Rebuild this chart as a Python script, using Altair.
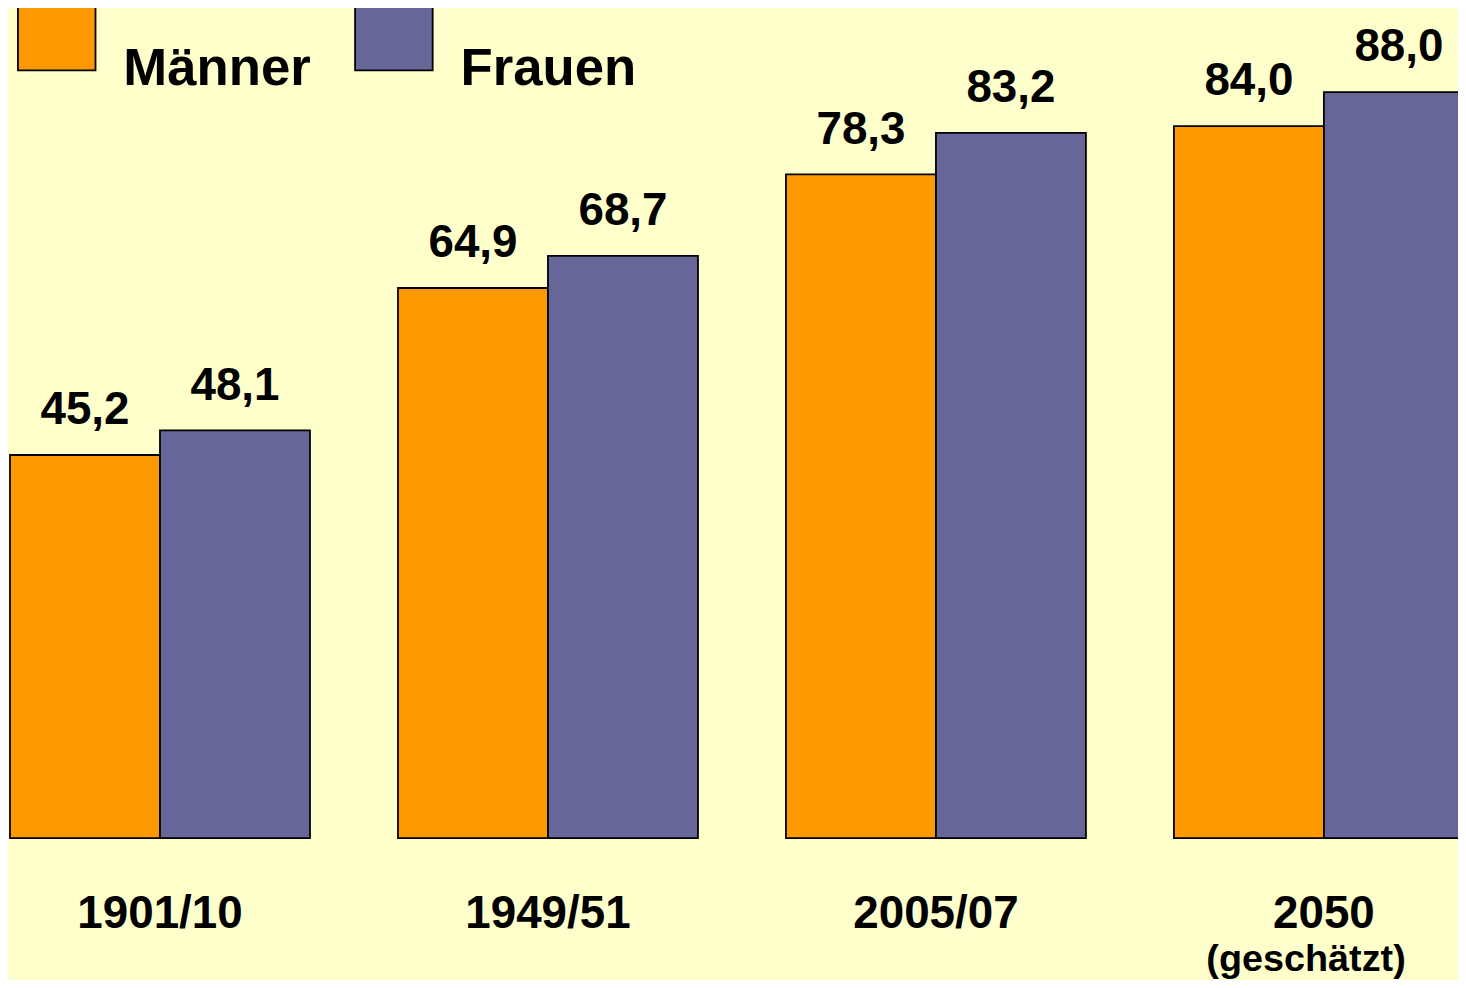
import altair as alt
import pandas as pd

periods = ["1901/10", "1949/51", "2005/07", "2050"]
series = ["Männer", "Frauen"]
maenner = [45.2, 64.9, 78.3, 84.0]
frauen = [48.1, 68.7, 83.2, 88.0]
note_periods = ["2050"]
note_texts = ["(geschätzt)"]
colors = ["#FF9900", "#666699"]

rows = []
for p, m, f in zip(periods, maenner, frauen):
    rows.append({"Zeitraum": p, "Geschlecht": series[0], "Wert": m,
                 "Label": f"{m:.1f}".replace(".", ",")})
    rows.append({"Zeitraum": p, "Geschlecht": series[1], "Wert": f,
                 "Label": f"{f:.1f}".replace(".", ",")})
df = pd.DataFrame(rows)
notes = pd.DataFrame({"Zeitraum": note_periods, "Text": note_texts, "Wert": [0] * len(note_periods)})

FONT = "Liberation Sans"

x_enc = alt.X(
    "Zeitraum:N", sort=periods, title=None,
    scale=alt.Scale(paddingInner=88 / 388, paddingOuter=0),
    axis=alt.Axis(ticks=False, domain=False, labelAngle=0, labelFont=FONT,
                  labelFontSize=46, labelFontWeight="bold", labelColor="black",
                  labelBaseline="alphabetic", labelPadding=90, grid=False),
)
xo_enc = alt.XOffset("Geschlecht:N", sort=series, scale=alt.Scale(paddingInner=0, paddingOuter=0))
y_enc = alt.Y("Wert:Q", scale=alt.Scale(domain=[0, 88], nice=False, zero=True), axis=None)

base = alt.Chart(df)

bars = base.mark_bar(stroke="black", strokeWidth=1.8, opacity=1).encode(
    x=x_enc,
    xOffset=xo_enc,
    y=y_enc,
    color=alt.Color(
        "Geschlecht:N", sort=series,
        scale=alt.Scale(domain=series, range=colors),
        legend=alt.Legend(
            title=None, orient="none", legendX=7, legendY=-47, direction="horizontal",
            symbolType="M-1,-2.026H1V-0.385H-1Z", symbolSize=6084,
            symbolStrokeColor="black", symbolStrokeWidth=1.8, symbolOpacity=1,
            labelFont=FONT, labelFontSize=53, labelFontWeight="bold", labelColor="black",
            labelOffset=27, columnPadding=40, labelBaseline="alphabetic",
            padding=0, labelLimit=400,
        ),
    ),
)

labels = base.mark_text(font=FONT, fontSize=46, fontWeight="bold", color="black",
                        baseline="alphabetic", dy=-31).encode(
    x=x_enc, xOffset=xo_enc, y=y_enc, text="Label:N"
)

note = alt.Chart(notes).mark_text(font=FONT, fontSize=38, fontWeight="bold", color="black",
                                  baseline="alphabetic", dy=134, dx=-18).encode(
    x=alt.X("Zeitraum:N", sort=periods),
    y=alt.Y("Wert:Q"),
    text="Text:N",
)

chart = alt.layer(bars, labels, note).properties(
    width=1472, height=750,
    autosize=alt.AutoSizeParams(type="none"),
    padding={"left": 2, "top": 82, "right": -16, "bottom": 140},
    background="#FFFFCC",
).configure_view(stroke=None)

chart.save("out.html", embed_options={"renderer": "svg", "actions": False})
